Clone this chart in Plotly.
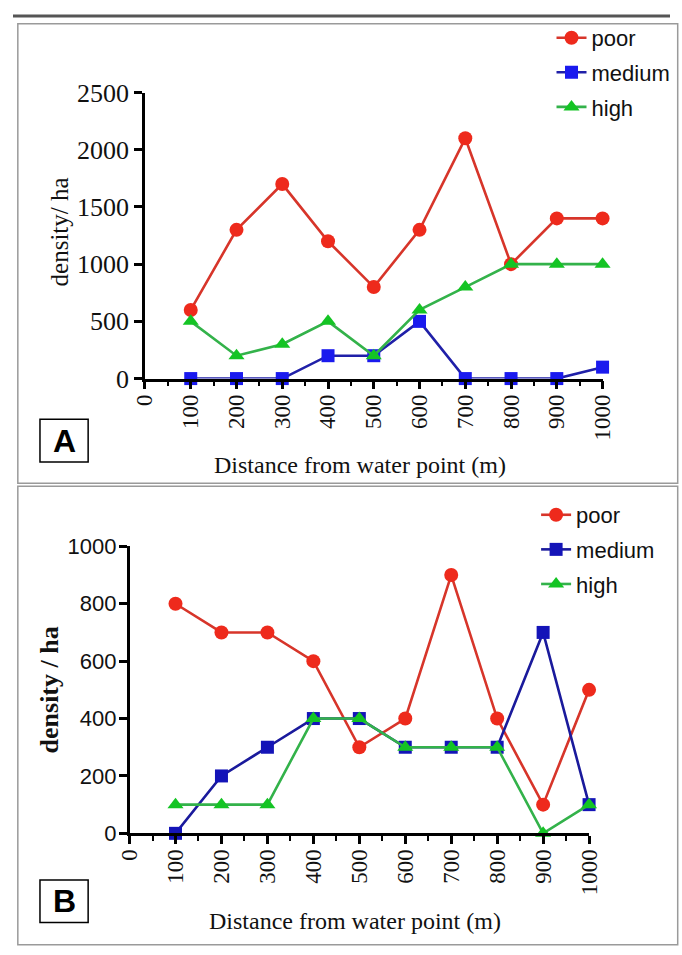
import plotly.graph_objects as go

W, H = 682, 955

distance = [100, 200, 300, 400, 500, 600, 700, 800, 900, 1000]

a_poor = [600, 1300, 1700, 1200, 800, 1300, 2100, 1000, 1400, 1400]
a_medium = [0, 0, 0, 200, 200, 500, 0, 0, 0, 100]
a_high = [500, 200, 300, 500, 200, 600, 800, 1000, 1000, 1000]

b_poor = [800, 700, 700, 600, 300, 400, 900, 400, 100, 500]
b_medium = [0, 200, 300, 400, 400, 300, 300, 300, 700, 100]
b_high = [100, 100, 100, 400, 400, 300, 300, 300, 0, 100]

x_ticks = [0, 100, 200, 300, 400, 500, 600, 700, 800, 900, 1000]
a_y_ticks = [0, 500, 1000, 1500, 2000, 2500]
b_y_ticks = [0, 200, 400, 600, 800, 1000]


def px(x):
    return x / W


def py(y):
    return 1 - y / H


POOR_L, POOR_M = "#d7352a", "#ee2a1c"
MED_A_L, MED_A_M = "#2020a8", "#1a1aee"
MED_B_L, MED_B_M = "#1a1a9c", "#1414b8"
HIGH_L, HIGH_M = "#33b24a", "#14c424"

SERIF = "Liberation Serif"
SANS = "Liberation Sans"

fig = go.Figure()


def add(x, y, name, lc, mc, sym, xa, ya, leg, grp, msize=14):
    fig.add_trace(go.Scatter(
        x=x, y=y, name=name, mode="lines+markers",
        line=dict(color=lc, width=2.6),
        marker=dict(color=mc, symbol=sym, size=msize, line=dict(width=0)),
        xaxis=xa, yaxis=ya, legend=leg, legendgroup=grp, cliponaxis=False,
    ))


add(distance, a_poor, "poor", POOR_L, POOR_M, "circle", "x", "y", "legend", "a1")
add(distance, a_medium, "medium", MED_A_L, MED_A_M, "square", "x", "y", "legend", "a2", 13)
add(distance, a_high, "high", HIGH_L, HIGH_M, "triangle-up", "x", "y", "legend", "a3")

add(distance, b_poor, "poor", POOR_L, POOR_M, "circle", "x2", "y2", "legend2", "b1")
add(distance, b_medium, "medium", MED_B_L, MED_B_M, "square", "x2", "y2", "legend2", "b2", 13)
add(distance, b_high, "high", HIGH_L, HIGH_M, "triangle-up", "x2", "y2", "legend2", "b3")

xaxis_common = dict(
    range=[0, 1000], tickvals=x_ticks, tickangle=-90,
    showline=True, linecolor="black", linewidth=2.5,
    ticks="outside", ticklen=8, tickwidth=2.5, tickcolor="black",
    minor=dict(ticks="outside", dtick=50, ticklen=5, tickwidth=2, tickcolor="black"),
    showgrid=False, zeroline=False, ticklabelstandoff=-4,
    tickfont=dict(family=SERIF, size=23, color="#111"),
    fixedrange=True,
)
yaxis_common = dict(
    showline=True, linecolor="black", linewidth=2.5,
    ticks="outside", ticklen=8, tickwidth=2.5, tickcolor="black",
    showgrid=False, zeroline=False, fixedrange=True,
)

fig.update_layout(
    width=W, height=H, margin=dict(l=0, r=0, t=0, b=0),
    paper_bgcolor="white", plot_bgcolor="white",
    xaxis=dict(domain=[px(137), px(612)], anchor="y", **xaxis_common),
    yaxis=dict(domain=[py(376), py(81)], anchor="x", range=[0, 2500], tickvals=a_y_ticks,
               tickfont=dict(family=SERIF, size=26, color="#111"), **yaxis_common),
    xaxis2=dict(domain=[px(121), px(598)], anchor="y2", **xaxis_common),
    yaxis2=dict(domain=[py(845), py(549)], anchor="x2", range=[0, 1000], tickvals=b_y_ticks,
                ticklabelstandoff=-2,
                tickfont=dict(family=SANS, size=22, color="#111"), **yaxis_common),
    legend=dict(x=px(559), y=py(3), xanchor="left", yanchor="top",
                font=dict(family=SANS, size=22, color="#111"),
                tracegroupgap=3, traceorder="grouped", bgcolor="rgba(0,0,0,0)"),
    legend2=dict(x=px(543), y=py(495), xanchor="left", yanchor="top",
                 font=dict(family=SANS, size=22, color="#111"),
                 tracegroupgap=3, traceorder="grouped", bgcolor="rgba(0,0,0,0)"),
    showlegend=True,
)

shapes = [
    dict(type="line", xref="paper", yref="paper", x0=0, x1=1, y0=py(2), y1=py(2),
         line=dict(color="#555", width=3)),
    dict(type="rect", xref="paper", yref="paper", x0=px(5), x1=px(690), y0=py(484), y1=py(10),
         line=dict(color="#9a9a9a", width=1.5)),
    dict(type="rect", xref="paper", yref="paper", x0=px(5), x1=px(690), y0=py(960), y1=py(487),
         line=dict(color="#9a9a9a", width=1.5)),
    dict(type="rect", xref="paper", yref="paper", x0=px(28), x1=px(78), y0=py(462), y1=py(418),
         line=dict(color="black", width=1.5)),
    dict(type="rect", xref="paper", yref="paper", x0=px(28), x1=px(78), y0=py(937), y1=py(893),
         line=dict(color="black", width=1.5)),
]
fig.update_layout(shapes=shapes)

ann = [
    dict(text="<b>A</b>", x=px(53), y=py(440), font=dict(family=SANS, size=32, color="black"), textangle=0),
    dict(text="<b>B</b>", x=px(53), y=py(915), font=dict(family=SANS, size=32, color="black"), textangle=0),
    dict(text="density/ ha", x=px(48), y=py(225), font=dict(family=SERIF, size=25, color="#111"), textangle=-90),
    dict(text="Distance from water point (m)", x=px(360), y=py(465), font=dict(family=SERIF, size=24, color="#111"), textangle=0),
    dict(text="<b>density / ha</b>", x=px(38), y=py(697), font=dict(family=SERIF, size=26, color="#111"), textangle=-90),
    dict(text="Distance from water point (m)", x=px(355), y=py(935), font=dict(family=SERIF, size=24, color="#111"), textangle=0),
]
for a in ann:
    a.update(xref="paper", yref="paper", showarrow=False, xanchor="center", yanchor="middle")
fig.update_layout(annotations=ann)

fig.write_html("out.html", config={"displayModeBar": False},
               post_script="document.body.style.margin='0';document.body.style.overflow='hidden';")
